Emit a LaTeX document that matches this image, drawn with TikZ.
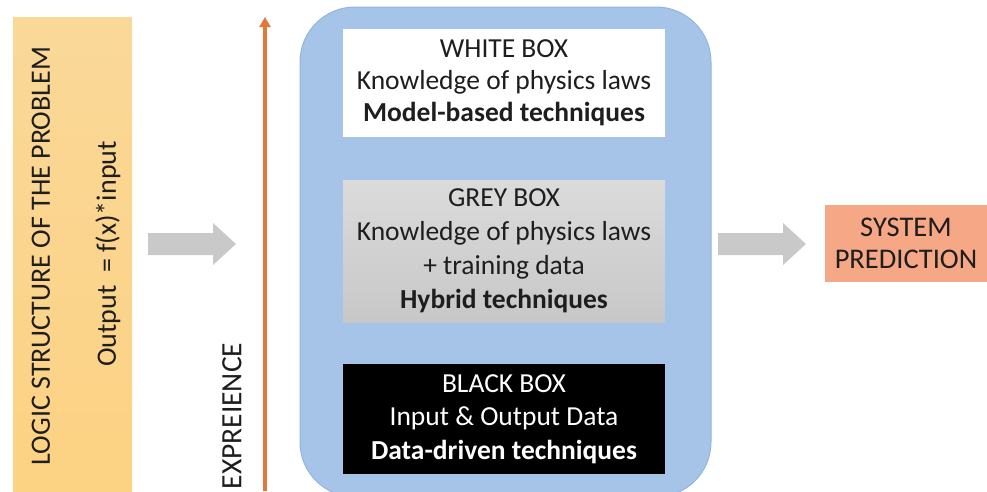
\documentclass[tikz,border=0pt]{standalone}
\usepackage{fontspec}
\setmainfont{Carlito}
\usetikzlibrary{arrows.meta}
\definecolor{ylw}{HTML}{FCD283}
\definecolor{ylwtop}{HTML}{FAD898}
\definecolor{bluebg}{HTML}{A5C4E8}
\definecolor{blueedge}{HTML}{93B5DF}
\definecolor{greybox}{HTML}{D2D2D2}
\definecolor{arrgrey}{HTML}{C9C9C9}
\definecolor{orng}{HTML}{E2793A}
\definecolor{salmon}{HTML}{F6A886}
\definecolor{txt}{HTML}{1E1E1E}
\tikzset{
  boxtext/.style={font=\fontsize{27.5}{32}\selectfont, align=center, text=txt},
  innerbox/.style={rectangle, minimum width=322pt, inner sep=0pt, boxtext},
  vtext/.style={rotate=90, font=\fontsize{28}{32}\selectfont, text=txt},
  blockarrow/.style={fill=arrgrey, draw=none}
}
\newcommand{\blockarr}[1]{%
  \fill[blockarrow] (#1) ++(0,-11) -- ++(65,0) -- ++(0,-10) -- ++(23,21)
     -- ++(-23,21) -- ++(0,-10) -- ++(-65,0) -- cycle;}
\begin{document}
\begin{tikzpicture}[x=1pt,y=-1pt]
\useasboundingbox (0,0) rectangle (987,491);
% left yellow box
\node[rectangle, minimum width=119pt, minimum height=474pt, inner sep=0pt,
  top color=ylwtop, bottom color=ylw, draw=none] (logic) at (72.5,254) {};
\node[vtext] (logictxt) at (41,256) {LOGIC STRUCTURE OF THE PROBLEM};
\node[vtext] (outtxt) at (108,254) {Output~~= f(x)*input};
% arrow 1
\coordinate (arr1) at (148,244);
\blockarr{arr1}
% experience arrow
\coordinate (expbot) at (265,491);
\coordinate (exptop) at (265,17);
\draw[orng, line width=4pt, -{Triangle[length=10pt,width=11pt]}] (expbot) -- (exptop);
\node[vtext, font=\fontsize{29.5}{32}\selectfont] (exptxt) at (232,416) {EXPREIENCE};
% blue container
\node[rectangle, rounded corners=55pt, fill=bluebg, draw=blueedge, line width=1pt,
  minimum width=411pt, minimum height=490pt, inner sep=0pt] (blue) at (505.5,252) {};
% inner boxes
\node[innerbox, fill=white, minimum height=108pt] (white) at (504,83)
  {WHITE BOX\\Knowledge of physics laws\\\textbf{Model-based techniques}};
\node[innerbox, font=\fontsize{27.5}{34}\selectfont, top color=greybox!80!white, bottom color=greybox!95!black, minimum height=142pt] (grey) at (504,251)
  {GREY BOX\\Knowledge of physics laws\\+ training data\\\textbf{Hybrid techniques}};
\node[innerbox, font=\fontsize{27.5}{33.5}\selectfont, fill=black, text=white, minimum height=110pt] (black) at (504,419)
  {BLACK BOX\\Input \& Output Data\\\textbf{Data-driven techniques}};
% arrow 2
\coordinate (arr2) at (718,244);
\blockarr{arr2}
% system prediction
\node[rectangle, fill=salmon, minimum width=162pt, minimum height=77pt, inner sep=0pt,
  font=\fontsize{28.5}{32}\selectfont, align=center, text=txt] (sys) at (906,243.5)
  {SYSTEM\\PREDICTION};
\end{tikzpicture}
\end{document}
